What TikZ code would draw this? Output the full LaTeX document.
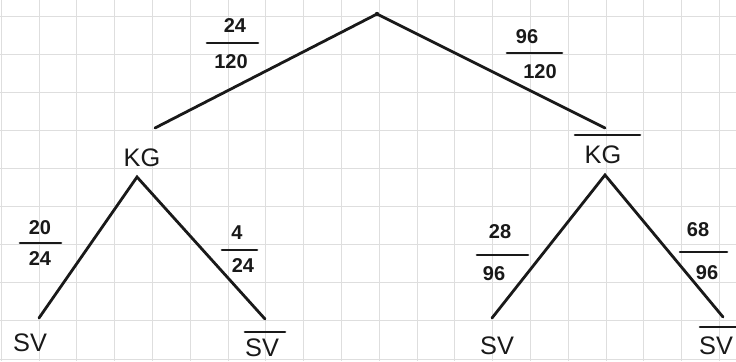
\documentclass[tikz,border=0pt]{standalone}
\usepackage{fontspec}
\setmainfont{Liberation Sans}
\begin{document}
\begin{tikzpicture}[x=0.75pt,y=-0.75pt,
  gridline/.style={draw=black!13,line width=0.6pt},
  branch/.style={draw=black!90,line width=2.1pt,line cap=round},
  bar/.style={draw=black!90,line width=2pt,line cap=round},
  big/.style={font=\fontsize{19}{20}\selectfont,inner sep=0pt,text=black!90},
  num/.style={font=\fontsize{15}{16}\selectfont\bfseries,inner sep=0pt,text=black!90}]
\useasboundingbox (0,0) rectangle (736,361);
\fill[white] (0,0) rectangle (736,361);
% grid paper
\foreach \k in {0,...,19} {\draw[gridline] ({1.2+37.8*\k},0) -- ({1.2+37.8*\k},361);}
\foreach \k in {0,...,9} {\draw[gridline] (0,{16+38.1*\k}) -- (736,{16+38.1*\k});}
% tree points
\coordinate (root) at (377,14);
\coordinate (kgend) at (155,128);
\coordinate (nkgend) at (605,128);
\coordinate (kgj) at (137,177);
\coordinate (nkgj) at (605,175);
\coordinate (sv1) at (39,318);
\coordinate (nsv1) at (265,319);
\coordinate (sv2) at (492,318);
\coordinate (nsv2) at (723,317);
\fill[black!90] (root) circle (2.2);
% branches
\draw[branch] (root) -- (kgend);
\draw[branch] (root) -- (nkgend);
\draw[branch] (sv1) -- (kgj) -- (nsv1);
\draw[branch] (sv2) -- (nkgj) -- (nsv2);
% node labels
\node[big] (kg) at (142,158) {KG};
\node[big] (nkg) at (603,155) {KG};
\draw[bar] (575,135) -- (640,135);
\node[big] (l1) at (30,343) {SV};
\node[big] (l2) at (262,348) {SV};
\draw[bar] (245,332) -- (285,332);
\node[big] (l3) at (497,346) {SV};
\node[big] (l4) at (716,346) {SV};
\draw[bar] (700,327) -- (736,327);
% probabilities
\node[num] (n1) at (235,26) {24};
\draw[bar] (207,43) -- (258,43);
\node[num] (d1) at (231,62) {120};
\node[num] (n2) at (527,37) {96};
\draw[bar] (507,53) -- (562,53);
\node[num] (d2) at (540,72) {120};
\node[num] (n3) at (40,228) {20};
\draw[bar] (20,243) -- (61,243);
\node[num] (d3) at (40,259) {24};
\node[num] (n4) at (237,233) {4};
\draw[bar] (222,250) -- (257,250);
\node[num] (d4) at (243,266) {24};
\node[num] (n5) at (500,232) {28};
\draw[bar] (477,255) -- (528,255);
\node[num] (d5) at (494,274) {96};
\node[num] (n6) at (698,230) {68};
\draw[bar] (680,252) -- (727,252);
\node[num] (d6) at (707,273) {96};
\end{tikzpicture}
\end{document}
